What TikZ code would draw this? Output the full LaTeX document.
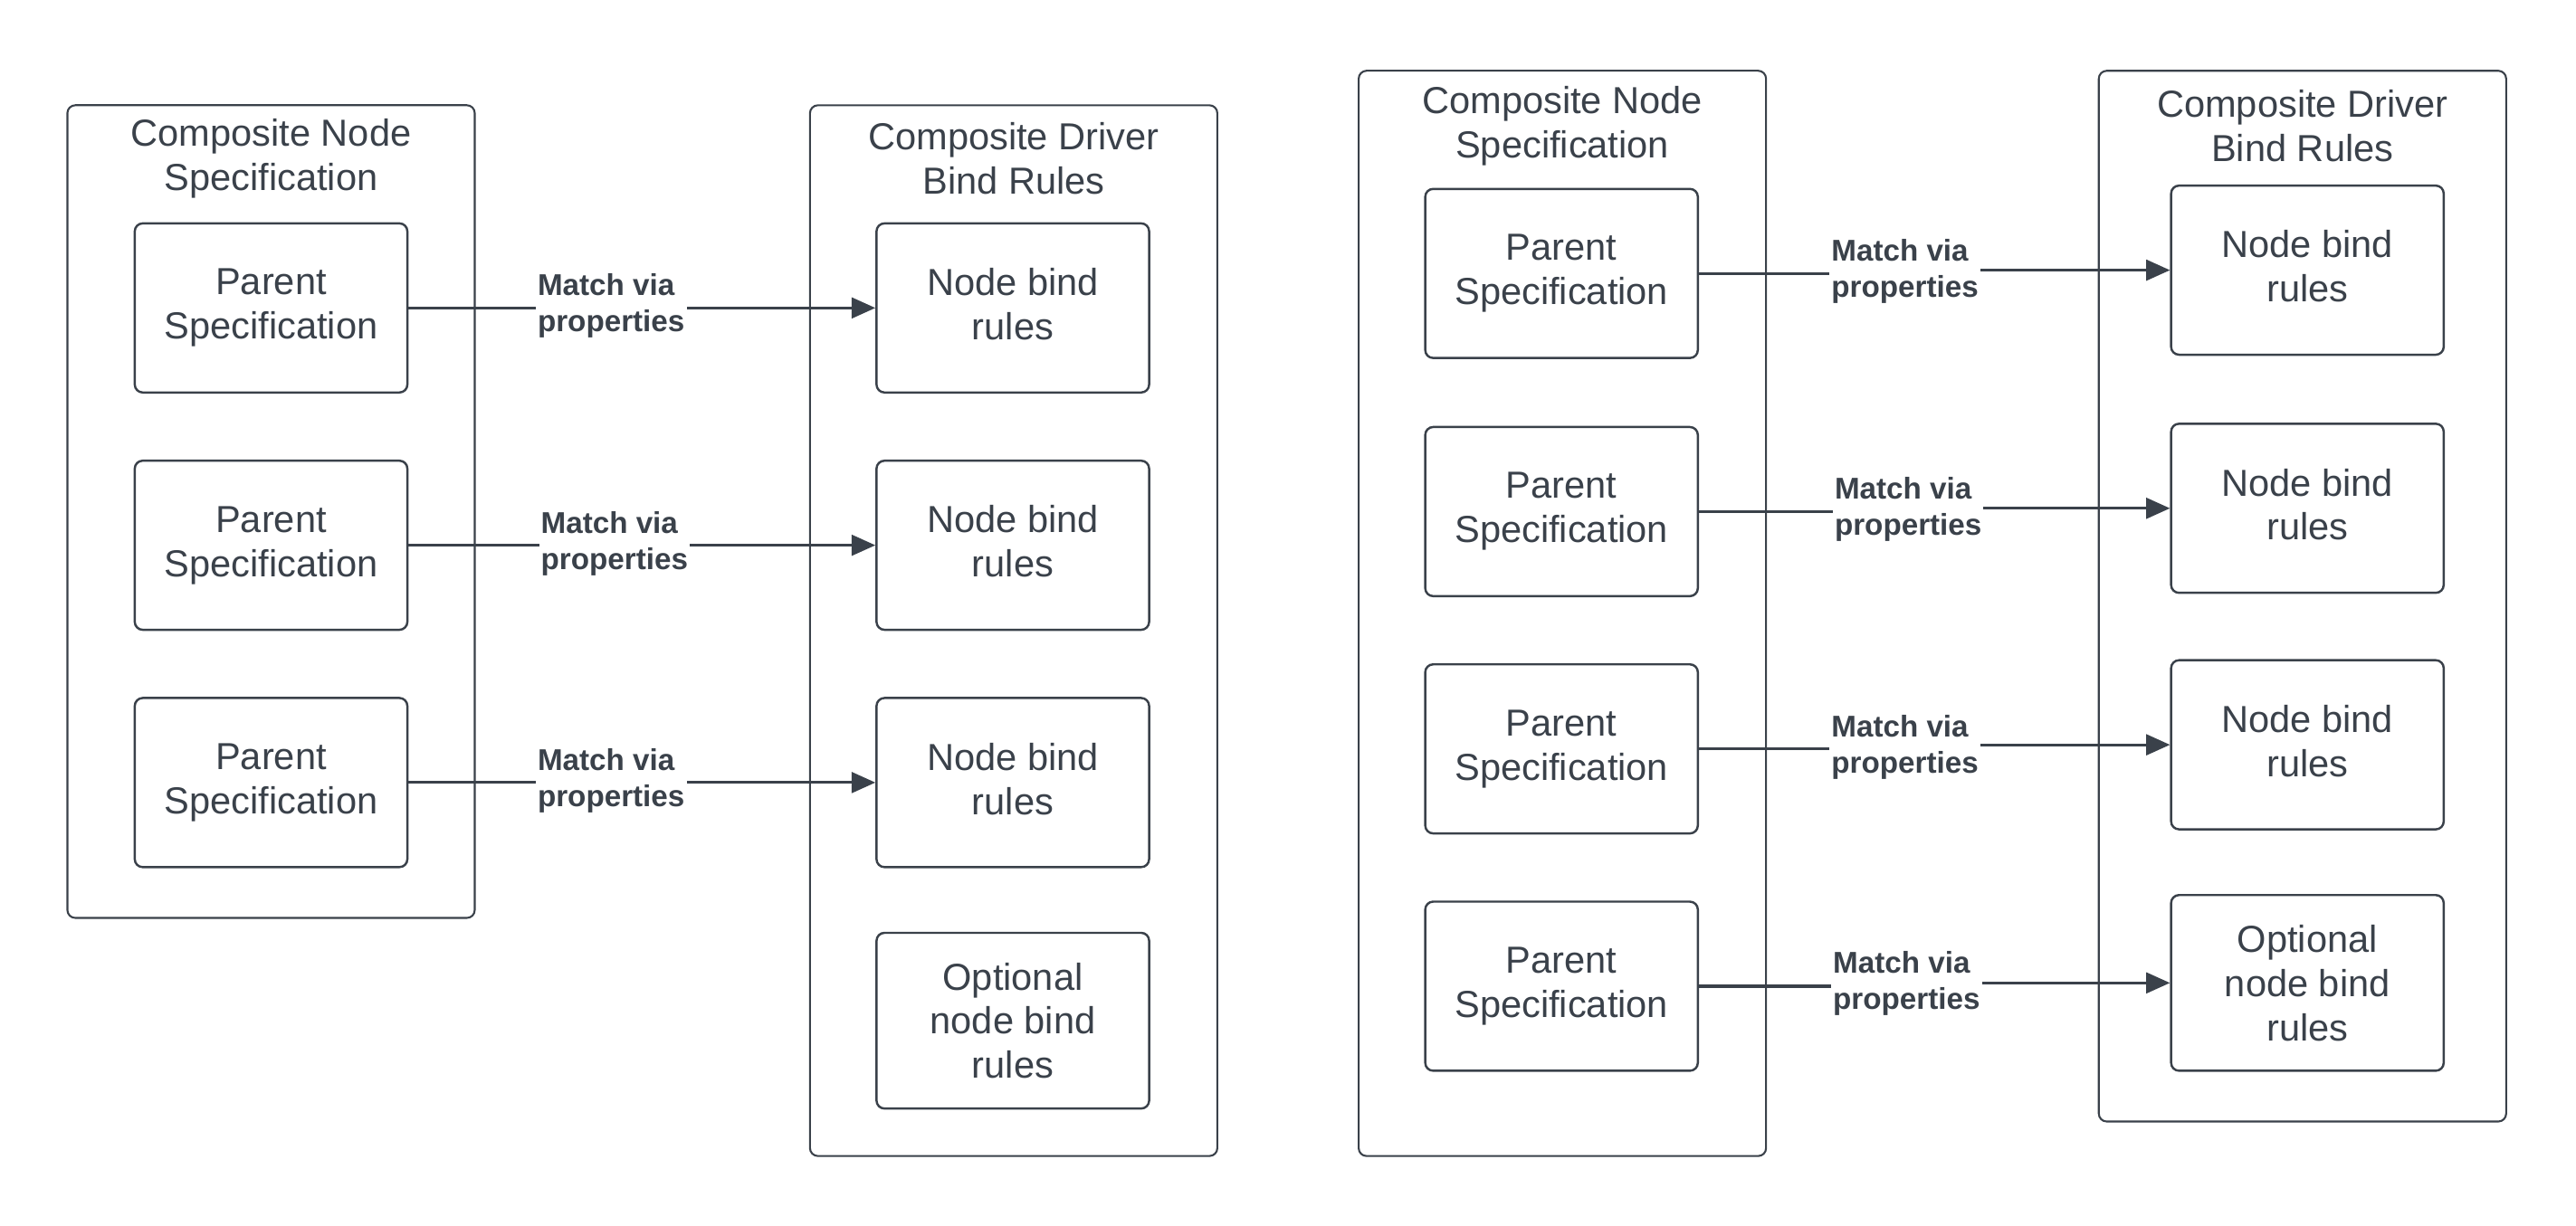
\documentclass[tikz,border=0pt]{standalone}
\usepackage{fontspec}
\setmainfont{Liberation Sans}
\usetikzlibrary{arrows.meta}
\definecolor{slate}{HTML}{3A414A}
\begin{document}
\begin{tikzpicture}[x=0.018244cm,y=-0.018244cm,
  >={Triangle[length=7.5pt,width=6.5pt]},
  outer/.style={draw=slate,line width=0.6pt,rounded corners=2.5pt,minimum width=4.525cm,inner sep=0pt},
  title/.style={text=slate,align=center,font=\fontsize{11.9}{14}\selectfont},
  box/.style={draw=slate,line width=0.7pt,rounded corners=2.5pt,minimum width=3.028cm,minimum height=1.879cm,
    text=slate,align=center,font=\fontsize{11.9}{14}\selectfont},
  bind/.style={box,execute at end node=\vphantom{p}},
  optbox/.style={box,minimum height=1.952cm},
  match/.style={fill=white,text=slate,align=left,inner sep=0.6pt,font=\bfseries\fontsize{9.5}{11.4}\selectfont},
  conn/.style={draw=slate,line width=0.9pt,->}]
\useasboundingbox (0,0) rectangle (1568,746);
% left: outer frames
\node[outer,minimum height=9.031cm] (specL) at (165,311.5) {};
\node[outer,minimum height=11.676cm] (rulesL) at (617,384) {};
\node[title] (specLt) at (165,96.5) {Composite Node\\Specification};
\node[title] (rulesLt) at (617,96.5) {Composite Driver\\Bind Rules};
% left: parents and bind rules
\node[box] (parL1) at (165,187.5) {Parent\\Specification};
\node[box] (parL2) at (165,332) {Parent\\Specification};
\node[box] (parL3) at (165,476.5) {Parent\\Specification};
\node[bind] (bindL1) at (616.5,187.5) {Node bind\\rules};
\node[bind] (bindL2) at (616.5,332) {Node bind\\rules};
\node[bind] (bindL3) at (616.5,476.5) {Node bind\\rules};
\node[optbox] (bindL4) at (616.5,621.5) {Optional\\node bind\\rules};
\draw[conn] (parL1) -- (bindL1);
\draw[conn] (parL2) -- (bindL2);
\draw[conn] (parL3) -- (bindL3);
\node[match] (mL1) at (372,186) {Match via\\properties};
\node[match] (mL2) at (374,331) {Match via\\properties};
\node[match] (mL3) at (372,475.5) {Match via\\properties};
% right: outer frames
\node[outer,minimum height=12.06cm] (specR) at (951,373.5) {};
\node[outer,minimum height=11.676cm] (rulesR) at (1401.5,363) {};
\node[title] (specRt) at (951,76.5) {Composite Node\\Specification};
\node[title] (rulesRt) at (1401.5,76.5) {Composite Driver\\Bind Rules};
% right: parents and bind rules
\node[box] (parR1) at (950.5,166.5) {Parent\\Specification};
\node[box] (parR2) at (950.5,311.5) {Parent\\Specification};
\node[box] (parR3) at (950.5,456) {Parent\\Specification};
\node[box] (parR4) at (950.5,600.5) {Parent\\Specification};
\node[bind] (bindR1) at (1404.5,164.5) {Node bind\\rules};
\node[bind] (bindR2) at (1404.5,309.5) {Node bind\\rules};
\node[bind] (bindR3) at (1404.5,453.5) {Node bind\\rules};
\node[optbox] (bindR4) at (1404.5,598.5) {Optional\\node bind\\rules};
\coordinate (jR1) at (1159.5,165);
\coordinate (jR2) at (1161.5,310);
\coordinate (jR3) at (1159.5,455);
\coordinate (jR4) at (1160.5,599);
\draw[conn] (parR1.east) -| (jR1) |- (bindR1.west);
\draw[conn] (parR2.east) -| (jR2) |- (bindR2.west);
\draw[conn] (parR3.east) -| (jR3) |- (bindR3.west);
\draw[conn] (parR4.east) -| (jR4) |- (bindR4.west);
\node[match] (mR1) at (jR1) {Match via\\properties};
\node[match] (mR2) at (jR2) {Match via\\properties};
\node[match] (mR3) at (jR3) {Match via\\properties};
\node[match] (mR4) at (jR4) {Match via\\properties};
\end{tikzpicture}
\end{document}
